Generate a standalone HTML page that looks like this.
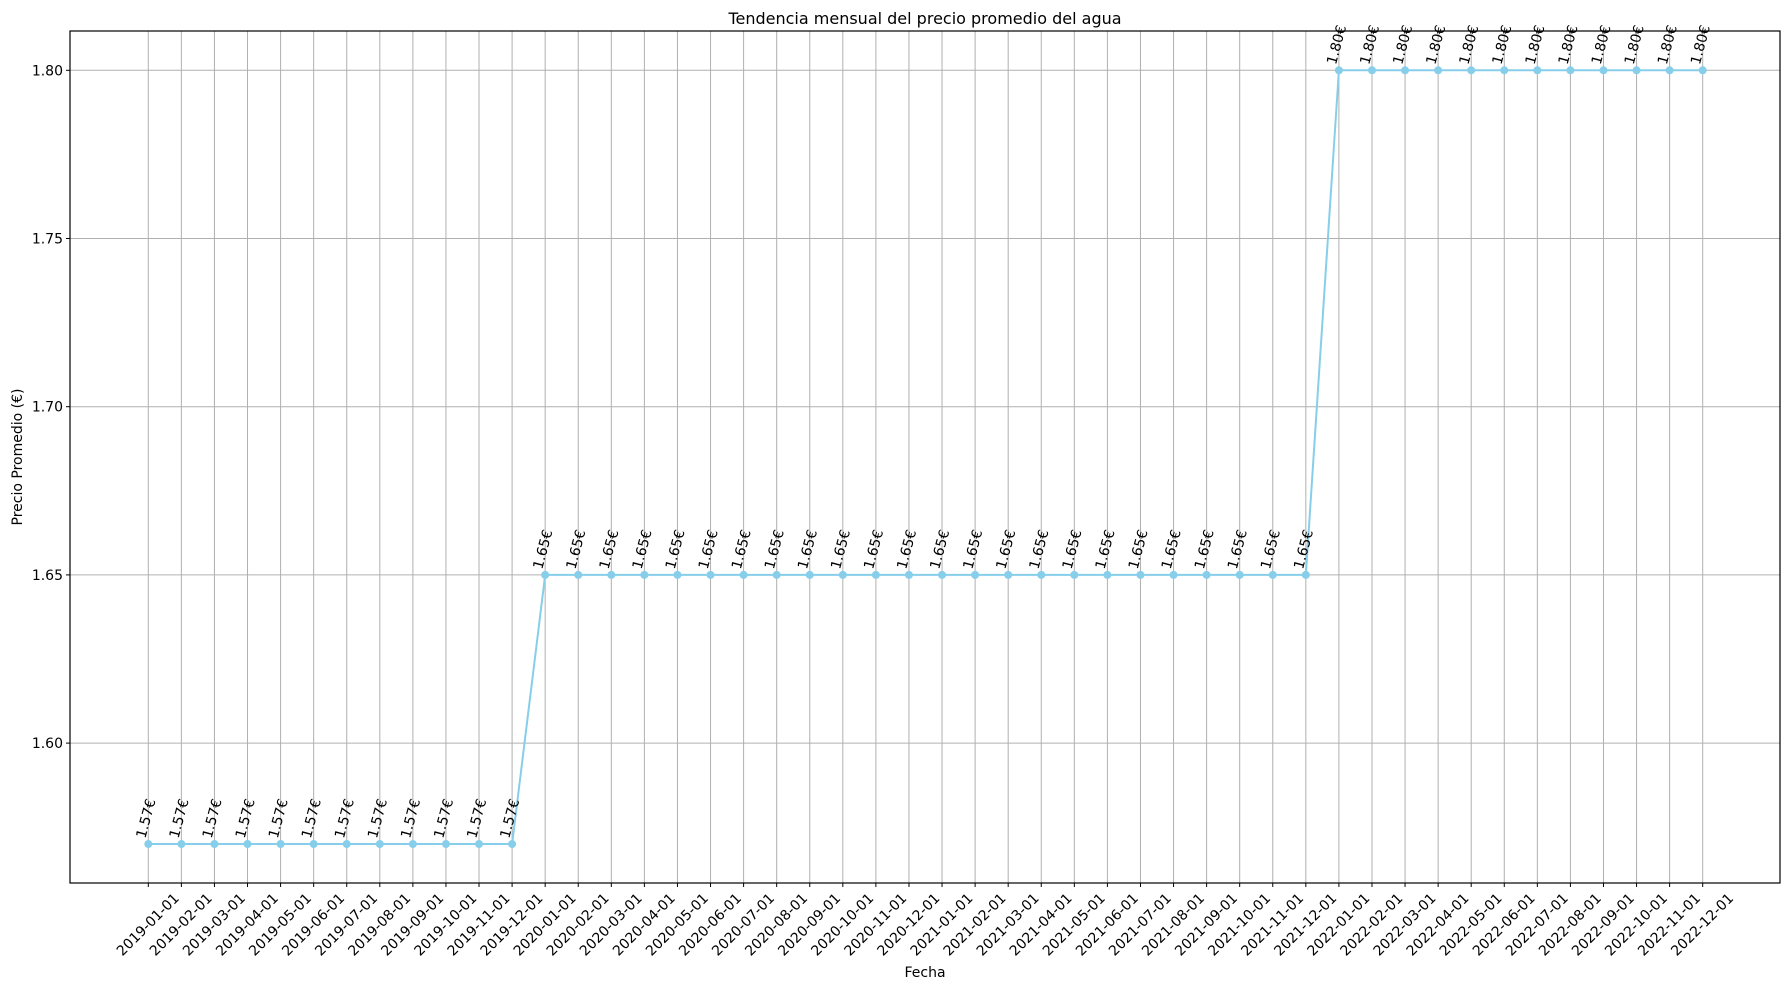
<!DOCTYPE html>
<html><head><meta charset="utf-8"><style>
body{margin:0;background:#fff}
svg{display:block;font-family:"DejaVu Sans","Liberation Sans",sans-serif}
</style></head><body>
<svg id="chart" width="1790" height="989">
<rect x="0" y="0" width="1790" height="989" fill="#fff"/>
<g id="grid"></g><g id="series"></g><g id="axes"></g>
</svg>
<script>
const dates=["2019-01-01","2019-02-01","2019-03-01","2019-04-01","2019-05-01","2019-06-01","2019-07-01","2019-08-01","2019-09-01","2019-10-01","2019-11-01","2019-12-01","2020-01-01","2020-02-01","2020-03-01","2020-04-01","2020-05-01","2020-06-01","2020-07-01","2020-08-01","2020-09-01","2020-10-01","2020-11-01","2020-12-01","2021-01-01","2021-02-01","2021-03-01","2021-04-01","2021-05-01","2021-06-01","2021-07-01","2021-08-01","2021-09-01","2021-10-01","2021-11-01","2021-12-01","2022-01-01","2022-02-01","2022-03-01","2022-04-01","2022-05-01","2022-06-01","2022-07-01","2022-08-01","2022-09-01","2022-10-01","2022-11-01","2022-12-01"];
const prices=[1.57,1.57,1.57,1.57,1.57,1.57,1.57,1.57,1.57,1.57,1.57,1.57,1.65,1.65,1.65,1.65,1.65,1.65,1.65,1.65,1.65,1.65,1.65,1.65,1.65,1.65,1.65,1.65,1.65,1.65,1.65,1.65,1.65,1.65,1.65,1.65,1.80,1.80,1.80,1.80,1.80,1.80,1.80,1.80,1.80,1.80,1.80,1.80];
const yTicks=[1.60,1.65,1.70,1.75,1.80];

const L=70,T=31,R=1780,B=883;
const n=dates.length;
const x0=148.3,x1=1702.7;
function xs(i){return x0+(x1-x0)*i/(n-1);}
function ys(v){return 70.3+(1.80-v)*3364;}
const NS="http://www.w3.org/2000/svg";
function mk(tag,attrs,parent,text){const e=document.createElementNS(NS,tag);for(const k in attrs)e.setAttribute(k,attrs[k]);if(text!==undefined)e.textContent=text;parent.appendChild(e);return e;}
const grid=document.getElementById('grid'),series=document.getElementById('series'),axes=document.getElementById('axes');

dates.forEach((d,i)=>{
  const x=xs(i);
  const g=mk('line',{x1:x,y1:T,x2:x,y2:B,stroke:'#b0b0b0','stroke-width':1},grid);
  
  
  const t=mk('line',{x1:x,y1:B,x2:x,y2:B+4,stroke:'#000','stroke-width':1},axes);
  
  
  const lb=mk('text',{x:0,y:0,'font-size':14,'text-anchor':'middle','dominant-baseline':'central',transform:`translate(${x},925) rotate(-45)`},axes,d);
  
  
});
yTicks.forEach(v=>{
  const y=ys(v);
  const g=mk('line',{x1:L,y1:y,x2:R,y2:y,stroke:'#b0b0b0','stroke-width':1},grid);
  
  
  const t=mk('line',{x1:L-4,y1:y,x2:L,y2:y,stroke:'#000','stroke-width':1},axes);
  
  
  const lb=mk('text',{x:L-7,y:y+5,'font-size':14,'text-anchor':'end'},axes,v.toFixed(2));
  
  
});
const pts=prices.map((v,i)=>xs(i)+','+ys(v)).join(' ');
const line=mk('polyline',{points:pts,fill:'none',stroke:'#87ceeb','stroke-width':2},series);


prices.forEach((v,i)=>{
  const c=mk('circle',{cx:xs(i),cy:ys(v),r:4,fill:'#87ceeb'},series);
  
  
  const t=mk('text',{x:0,y:0,'font-size':14,transform:`translate(${xs(i)-3},${ys(v)-5}) rotate(-75)`},series,v.toFixed(2)+'€');
  
  
});
const fr=mk('rect',{x:L,y:T,width:R-L,height:B-T,fill:'none',stroke:'#000','stroke-width':1.2},axes);


const ti=mk('text',{x:(L+R)/2,y:24,'font-size':16,'text-anchor':'middle'},axes,'Tendencia mensual del precio promedio del agua');


const xl=mk('text',{x:(L+R)/2,y:977,'font-size':14,'text-anchor':'middle'},axes,'Fecha');


const yl=mk('text',{x:0,y:0,'font-size':14,'text-anchor':'middle',transform:`translate(22,${(T+B)/2}) rotate(-90)`},axes,'Precio Promedio (€)');


</script>
</body></html>
